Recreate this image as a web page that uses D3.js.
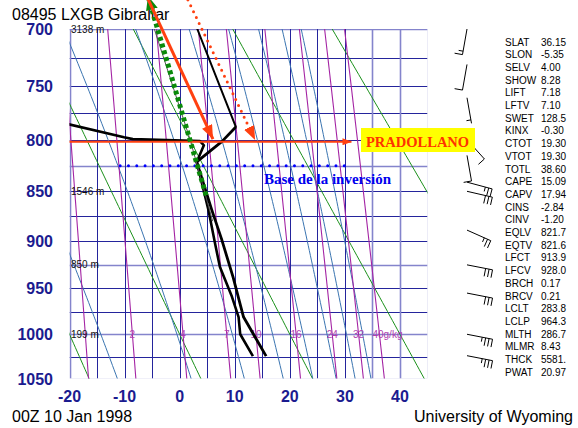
<!DOCTYPE html>
<html>
<head>
<meta charset="utf-8">
<script src="https://cdn.jsdelivr.net/npm/d3@7"></script>
<style>
body { margin: 0; background: #fff; }
svg { font-family: "Liberation Sans", Arial, sans-serif; }
</style>
</head>
<body>
<div id="chart"></div>
<script>
// ---- data ----
var tempTicks = [-20, -10, 0, 10, 20, 30, 40];
var pressTicks = [700, 750, 800, 850, 900, 950, 1000, 1050];
var isobars = [700, 725, 750, 775, 800, 825, 850, 875, 900, 925, 950, 975, 1000, 1025, 1050];
var isotherms = [-20, -15, -10, -5, 0, 5, 10, 15, 20, 25, 30, 35, 40, 45];
var dryTheta = [253.15, 273.15, 293.15, 313.15, 333.15];      // K
var moistThetaE = [262, 282, 302, 322, 342, 362, 382, 402];     // K
var mixRatios = [1, 2, 4, 7, 10, 16, 24, 32, 40];                // g/kg
var mixLabels = ["", "2", "4", "7", "10", "16", "24", "32", "40g/kg"];
var heightLevels = [700, 850, 925, 1000];
var heightLabels = ["3138 m", "1546 m", "850 m", "199 m"];

// sounding: temperature and dew point
var tempP = [1024.5, 981, 938, 898, 868, 821.3, 801.6, 788];
var tempT = [15.7, 11.6, 9.7, 7.6, 5.8, 3.1, 7.7, 10.2];
var tempUpperP = [788, 700];
var tempUpperT = [10.2, 3.2];
var dewP = [1024.5, 1000, 981, 959, 927, 902, 868, 821.3, 805.4, 801.3, 799.5, 797.8, 785.6, 783.5];
var dewT = [13.3, 11.0, 10.7, 9.5, 7.3, 6.4, 5.2, 3.1, 4.4, 3.7, -8.5, -10.1, -20.1, -22];
var parcelP = [700, 800, 880];
var parcelT = [-4.6, 1.9, 6.0];

// winds: pressure, direction (deg), speed (kt)
var windP = [700, 731, 761, 800, 815, 841, 850, 889, 925, 955, 1000, 1024];
var windDir = [190, 190, 170, 138, 170, 105, 103, 114, 101, 101, 101, 101];
var windSpd = [15, 10, 5, 10, 10, 25, 30, 25, 30, 30, 35, 35];

// stability indices
var statNames = ["SLAT","SLON","SELV","SHOW","LIFT","LFTV","SWET","KINX","CTOT","VTOT","TOTL","CAPE","CAPV","CINS","CINV","EQLV","EQTV","LFCT","LFCV","BRCH","BRCV","LCLT","LCLP","MLTH","MLMR","THCK","PWAT"];
var statValues = ["36.15","-5.35","4.00","8.28","7.18","7.10","128.5","-0.30","19.30","19.30","38.60","15.09","17.94","-2.84","-1.20","821.7","821.6","913.9","928.0","0.17","0.21","283.8","964.3","286.7","8.43","5581.","20.97"];

// annotations in (T, p)
var redLineT = [-20, 31.2], redLineP = 802;
var redArrowT = [-6.1, 6.05], redArrowP = [671, 799.4];
var redDotT = [1.5, 13.7], redDotP = [675.3, 800.3];
var greenT = [4.8, -5.75], greenP = [854, 672];
var baseT = [-10.8, 31.2], baseP = 825;

// ---- thermodynamics for the background lines ----
var KAPPA = 0.286;
function esat(T) { return 6.112 * Math.exp(17.67 * T / (T + 243.5)); }
function thetaE(T, p) {
    var Tk = T + 273.15, e = esat(T), r = 0.622 * e / (p - e);
    return Tk * Math.pow(1000 / p, KAPPA) * Math.exp(2.5e6 * r / (1004 * Tk));
}
function moistT(te, p) {
    var lo = -90, hi = 60;
    for (var i = 0; i < 50; i++) {
        var mid = (lo + hi) / 2;
        if (thetaE(mid, p) > te) hi = mid; else lo = mid;
    }
    return (lo + hi) / 2;
}
function mixTd(r, p) {
    var e = (r / 1000) * p / (0.622 + r / 1000);
    var l = Math.log(e / 6.112);
    return 243.5 * l / (17.67 - l);
}

// ---- layout ----
var W = 578, H = 428;
var plotLeft = 69.5, plotRight = 427.5, plotTop = 29, plotBottom = 378.5;

var x = d3.scaleLinear().domain([-20, 45]).range([plotLeft, plotRight]);
var y = d3.scalePow().exponent(KAPPA).domain([700, 1050]).range([plotTop, plotBottom]);

var svg = d3.select("#chart").append("svg")
    .attr("width", W).attr("height", H);

var defs = svg.append("defs");
defs.append("clipPath").attr("id", "plotclip")
    .append("rect").attr("x", plotLeft).attr("y", plotTop)
    .attr("width", plotRight - plotLeft).attr("height", plotBottom - plotTop);

function marker(id, color, len, wid) {
    defs.append("marker").attr("id", id)
        .attr("markerUnits", "userSpaceOnUse")
        .attr("markerWidth", len).attr("markerHeight", wid)
        .attr("refX", len).attr("refY", wid / 2)
        .attr("orient", "auto")
        .append("path")
        .attr("d", "M0,0 L" + len + "," + (wid / 2) + " L0," + wid + " Z")
        .attr("fill", color);
}
marker("arrRed", "#ff4010", 14, 11);
marker("arrRedSmall", "#ff4010", 9, 7);
marker("arrGreen", "#0a8a0a", 14, 12);

var lineTP = d3.line().x(function(d) { return x(d[0]); }).y(function(d) { return y(d[1]); });

var plot = svg.append("g").attr("clip-path", "url(#plotclip)");

// grid
var lightIsobars = [700, 825, 925, 1000, 1050];
var lightIsotherms = [-20, 35, 40, 45];
plot.selectAll(".isobar").data(isobars).enter().append("line")
    .attr("x1", plotLeft).attr("x2", plotRight)
    .attr("y1", function(d) { return Math.round(y(d)) + 0.5; })
    .attr("y2", function(d) { return Math.round(y(d)) + 0.5; })
    .attr("stroke", function(d) { return lightIsobars.indexOf(d) >= 0 ? "#8484cc" : "#24249c"; })
    .attr("stroke-width", function(d) { return lightIsobars.indexOf(d) >= 0 ? 1.6 : 1; });
plot.selectAll(".isotherm").data(isotherms).enter().append("line")
    .attr("y1", plotTop).attr("y2", plotBottom)
    .attr("x1", function(d) { return Math.round(x(d)) + 0.5; })
    .attr("x2", function(d) { return Math.round(x(d)) + 0.5; })
    .attr("stroke", function(d) { return lightIsotherms.indexOf(d) >= 0 ? "#8484cc" : "#24249c"; })
    .attr("stroke-width", function(d) { return lightIsotherms.indexOf(d) >= 0 ? 1.6 : 1; });

var pRange = d3.range(640, 1101, 5);

// dry adiabats
plot.selectAll(".dry").data(dryTheta).enter().append("path")
    .attr("d", function(th) {
        return lineTP(pRange.map(function(p) { return [th * Math.pow(p / 1000, KAPPA) - 273.15, p]; }));
    })
    .attr("fill", "none").attr("stroke", "#1a901a").attr("stroke-width", 1);

// moist adiabats
plot.selectAll(".moist").data(moistThetaE).enter().append("path")
    .attr("d", function(te) {
        return lineTP(pRange.map(function(p) { return [moistT(te, p), p]; }));
    })
    .attr("fill", "none").attr("stroke", "#3a74b0").attr("stroke-width", 1);

// mixing ratio lines
plot.selectAll(".mix").data(mixRatios).enter().append("path")
    .attr("d", function(r) {
        return lineTP(pRange.map(function(p) { return [mixTd(r, p), p]; }));
    })
    .attr("fill", "none").attr("stroke", "#a424a4").attr("stroke-width", 1.1);

plot.selectAll(".mixlab").data(mixRatios).enter().append("text")
    .attr("x", function(r, i) { return x(mixTd(r, 1000)) - (i === mixRatios.length - 1 ? 7 : 0); })
    .attr("y", y(1000) + 3.5)
    .attr("text-anchor", function(r, i) { return i === mixRatios.length - 1 ? "start" : "middle"; })
    .attr("font-size", 10).attr("fill", "#b040b0")
    .text(function(r, i) { return mixLabels[i]; });

// height labels
svg.selectAll(".hlab").data(heightLevels).enter().append("text")
    .attr("x", 71).attr("y", function(p) { return y(p) + 3.5; })
    .attr("font-size", 10).attr("fill", "#111")
    .text(function(p, i) { return heightLabels[i]; });

// sounding lines
plot.append("path")
    .attr("d", lineTP(dewP.map(function(p, i) { return [dewT[i], p]; })))
    .attr("fill", "none").attr("stroke", "#000").attr("stroke-width", 2.6)
    .attr("stroke-linejoin", "round");
plot.append("path")
    .attr("d", lineTP(tempP.map(function(p, i) { return [tempT[i], p]; })))
    .attr("fill", "none").attr("stroke", "#000").attr("stroke-width", 2.8)
    .attr("stroke-linejoin", "round");
plot.append("path")
    .attr("d", lineTP(tempUpperP.map(function(p, i) { return [tempUpperT[i], p]; })))
    .attr("fill", "none").attr("stroke", "#000").attr("stroke-width", 2)
    .attr("stroke-linecap", "round");
plot.append("path")
    .attr("d", lineTP(parcelP.map(function(p, i) { return [parcelT[i], p]; })))
    .attr("fill", "none").attr("stroke", "#555").attr("stroke-width", 1);

// axis labels
svg.selectAll(".plab").data(pressTicks).enter().append("text")
    .attr("x", 53).attr("y", function(p) { return y(p) + 6; })
    .attr("text-anchor", "end").attr("font-size", 16).attr("font-weight", "bold")
    .attr("fill", "#1b1b8f").text(function(p) { return p; });
svg.selectAll(".tlab").data(tempTicks).enter().append("text")
    .attr("x", function(t) { return x(t); }).attr("y", 402)
    .attr("text-anchor", "middle").attr("font-size", 16).attr("font-weight", "bold")
    .attr("fill", "#1b1b8f").text(function(t) { return t; });

// titles
svg.append("text").attr("x", 12).attr("y", 20).attr("font-size", 16).attr("fill", "#000")
    .text("08495 LXGB Gibraltar");
svg.append("text").attr("x", 12).attr("y", 422).attr("font-size", 16).attr("fill", "#000")
    .text("00Z 10 Jan 1998");
svg.append("text").attr("x", 573).attr("y", 422).attr("font-size", 16).attr("fill", "#000")
    .attr("text-anchor", "end").text("University of Wyoming");

// stability indices
var stats = svg.append("g");
statNames.forEach(function(n, i) {
    var yy = 45.5 + i * 12.7;
    stats.append("text").attr("x", 505).attr("y", yy).attr("font-size", 10).text(n);
    stats.append("text").attr("x", 541).attr("y", yy).attr("font-size", 10).text(statValues[i]);
});

// wind barbs
var barbs = svg.append("g").attr("stroke", "#000").attr("stroke-width", 1).attr("fill", "none");
windP.forEach(function(p, i) {
    var cx = 467, cy = y(p), L = 26;
    var rad = windDir[i] * Math.PI / 180;
    var ux = Math.sin(rad), uy = -Math.cos(rad);
    var px = Math.cos(rad), py = Math.sin(rad);
    var d = "M" + cx + "," + cy + "L" + (cx + ux * L) + "," + (cy + uy * L);
    var n10 = Math.floor(windSpd[i] / 10), n5 = Math.round((windSpd[i] % 10) / 5);
    var pos = L;
    for (var k = 0; k < n10; k++) {
        var bx = cx + ux * pos, by = cy + uy * pos;
        d += "M" + bx + "," + by + "L" + (bx + px * 8) + "," + (by + py * 8);
        pos -= 3.5;
    }
    if (n5) {
        if (n10 === 0) pos -= 3.5;
        var hx = cx + ux * pos, hy = cy + uy * pos;
        d += "M" + hx + "," + hy + "L" + (hx + px * 4.5) + "," + (hy + py * 4.5);
    }
    barbs.append("path").attr("d", d);
});

// annotations
var ann = svg.append("g");
ann.append("path")
    .attr("d", lineTP([[redLineT[0], redLineP], [redLineT[1], redLineP]]))
    .attr("stroke", "#ff4010").attr("stroke-width", 2).attr("fill", "none")
    .attr("marker-end", "url(#arrRedSmall)");
ann.append("path")
    .attr("d", lineTP([[baseT[0], baseP], [baseT[1], baseP]]))
    .attr("stroke", "#0000ff").attr("stroke-width", 3).attr("fill", "none")
    .attr("stroke-linecap", "round").attr("stroke-dasharray", "0,8.3");
ann.append("path")
    .attr("d", lineTP([[greenT[0], greenP[0]], [greenT[1], greenP[1]]]))
    .attr("stroke", "#0a8a0a").attr("stroke-width", 5).attr("fill", "none")
    .attr("stroke-dasharray", "4,3")
    .attr("marker-end", "url(#arrGreen)");
ann.append("path")
    .attr("d", lineTP([[redArrowT[0], redArrowP[0]], [redArrowT[1], redArrowP[1]]]))
    .attr("stroke", "#ff4010").attr("stroke-width", 3).attr("fill", "none")
    .attr("marker-end", "url(#arrRed)");
ann.append("path")
    .attr("d", lineTP([[redDotT[0], redDotP[0]], [redDotT[1], redDotP[1]]]))
    .attr("stroke", "#ff4010").attr("stroke-width", 3).attr("fill", "none")
    .attr("stroke-linecap", "round").attr("stroke-dasharray", "0,6.5")
    .attr("marker-end", "url(#arrRed)");

ann.append("rect").attr("x", 361).attr("y", 128).attr("width", 114).attr("height", 24)
    .attr("fill", "#ffff00");
ann.append("text").attr("x", 366).attr("y", 146.5)
    .style("font-family", "'Liberation Serif', 'Times New Roman', serif")
    .attr("font-size", 14.5).attr("font-weight", "bold").attr("fill", "#ff3300")
    .text("PRADOLLANO");
ann.append("text").attr("x", 264).attr("y", 183.5)
    .style("font-family", "'Liberation Serif', 'Times New Roman', serif")
    .attr("font-size", 15).attr("font-weight", "bold").attr("fill", "#0000ee")
    .text("Base de la inversión");
</script>
</body>
</html>
